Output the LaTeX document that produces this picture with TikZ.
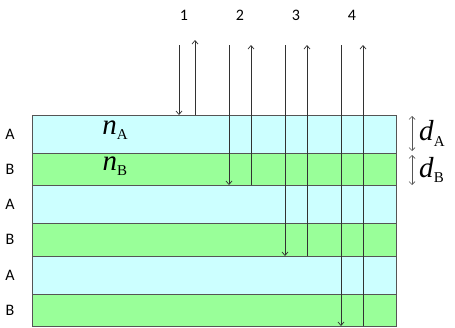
\documentclass[tikz,border=0pt]{standalone}
\usepackage{fontspec}
\setmainfont{Liberation Serif}
\setsansfont{Carlito}
\definecolor{layerA}{RGB}{204,255,255}
\definecolor{layerB}{RGB}{153,255,153}
\definecolor{edgegray}{RGB}{85,85,85}
\definecolor{raygray}{RGB}{50,50,50}
\usetikzlibrary{arrows.meta,positioning,calc}
\newcommand{\sublbl}[2]{\textit{#1}\raisebox{-0.4ex}{\fontsize{15}{16}\selectfont #2}}

\begin{document}
\begin{tikzpicture}[x=1pt,y=-1pt,
    layer/.style={draw=edgegray, line width=0.8pt},
    ray/.style={draw=raygray, line width=0.7pt, -{Straight Barb[length=3.5pt,width=6pt]}},
    gap/.style={draw=edgegray, line width=0.7pt, {Straight Barb[length=3pt,width=6pt]}-{Straight Barb[length=3pt,width=6pt]}},
    lbl/.style={font=\sffamily\fontsize{16}{18}\selectfont, inner sep=0pt},
    idx/.style={font=\fontsize{29}{31}\selectfont, inner sep=0pt}]
  \useasboundingbox (0,0) rectangle (455,327);

  % layer stack
  \foreach \ya/\yb/\col/\nm [count=\i] in {115/153/layerA/A, 153/185/layerB/B,
      185/223/layerA/A, 223/256/layerB/B, 256/294/layerA/A, 294/326/layerB/B}
  {
    \filldraw[layer, fill=\col] (32,\ya) rectangle (396,\yb);
    \node[lbl] (side\i) at (10,{(\ya+\yb)/2}) {\nm};
  }

  % indices
  \node[idx] (nA) at (115,130) {\sublbl{n}{A}};
  \node[idx] (nB) at (115,166) {\sublbl{n}{B}};

  % incoming and reflected rays
  \foreach \xd/\xu/\yd/\yt/\xl [count=\i] in {179/195/115/40/184, 229/251/185/45/240,
      285/307/256/45/296, 341/363/326/45/352}
  {
    \coordinate (in\i) at (\xd,45);
    \coordinate (hit\i) at (\xd,\yd);
    \coordinate (back\i) at (\xu,\yd);
    \coordinate (out\i) at (\xu,\yt);
    \draw[ray] (in\i) -- (hit\i);
    \draw[ray] (back\i) -- (out\i);
    \node[lbl] (num\i) at (\xl,15) {\i};
  }

  % thicknesses
  \coordinate (dAtop) at (412,116);
  \coordinate (dAbot) at (412,151);
  \coordinate (dBtop) at (412,155);
  \coordinate (dBbot) at (412,185);
  \draw[gap] (dAtop) -- (dAbot);
  \draw[gap] (dBtop) -- (dBbot);
  \node[idx, right=7pt of $(dAtop)!0.5!(dAbot)$] (dA) {\sublbl{d}{A}};
  \node[idx, right=7pt of $(dBtop)!0.5!(dBbot)$] (dB) {\sublbl{d}{B}};
\end{tikzpicture}
\end{document}
